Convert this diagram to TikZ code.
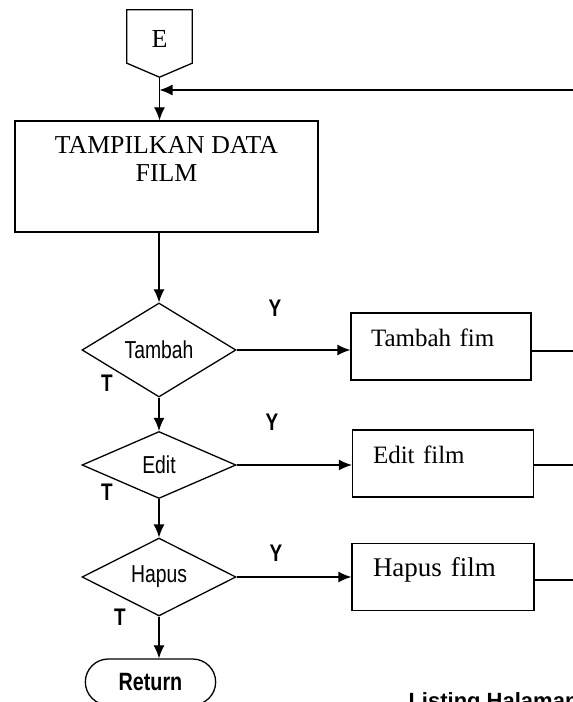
\documentclass[tikz,border=0pt]{standalone}
\usepackage{fontspec}
\setmainfont{Liberation Serif}
\newfontfamily\condsans[FakeStretch=0.79]{Liberation Sans}
\newfontfamily\plainsans{Liberation Sans}
\usetikzlibrary{shapes, arrows.meta, positioning}
\tikzstyle{block}=[draw,rectangle,line width=1.3pt]
\tikzstyle{procbox}=[block,align=left,text width=140pt,inner xsep=20pt,minimum height=67pt,text height=10pt,text depth=10pt,font=\fontsize{25}{28}\selectfont]
\tikzstyle{decision}=[draw,diamond,line width=1.3pt,inner sep=0pt,minimum width=154pt,font=\condsans\fontsize{24.5}{28}\selectfont]
\tikzstyle{terminal}=[draw,rounded rectangle,line width=1.3pt,minimum width=137pt,minimum height=46pt,font=\condsans\bfseries\fontsize{25}{28}\selectfont]
\tikzstyle{yn}=[font=\condsans\bfseries\fontsize{24}{28}\selectfont]
\tikzstyle{line}=[line width=1.3pt]

\begin{document}
\begin{tikzpicture}[x=1pt,y=1pt,>={Latex[length=13pt,width=11pt]}]
    \useasboundingbox (0,0) rectangle (573,702);
    \node[minimum width=65pt, minimum height=53pt, inner sep=0pt, text height=23pt, text depth=0pt, font=\fontsize{26}{28}\selectfont] (E) at (159.5,665.5) {E};
    \coordinate (Etip) at ([yshift=-14pt]E.south);
    \draw[line] (E.south west) -- (E.north west) -- (E.north east) -- (E.south east) -- (Etip) -- cycle;
    \node[block, minimum width=303pt, minimum height=111pt, align=center, text height=11pt, text depth=0pt, font=\fontsize{25.8}{28}\selectfont] (tampil) at (166.5,525.5) {TAMPILKAN DATA\\FILM};
    \node[decision, minimum height=94pt] (tambah) at (159,352) {Tambah};
    \node[decision, minimum height=67pt, below of=tambah, node distance=115pt] (edit) {Edit};
    \node[decision, minimum height=68pt, below of=edit, node distance=112pt] (hapus) {Hapus};
    \node[terminal] (ret) at (150.5,20) {Return};
    \node[procbox, minimum width=180pt, right of=tambah, node distance=282pt, yshift=3.5pt] (tfim) {Tambah fim};
    \node[procbox, minimum width=181pt, right of=edit, node distance=284pt, yshift=1.5pt] (efim) {Edit film};
    \node[procbox, minimum width=182pt, right of=hapus, node distance=284pt, font=\fontsize{27}{28}\selectfont] (hfim) {Hapus film};
    \node[yn] (y1) at (275,394) {Y};
    \node[yn] (y2) at (272,280) {Y};
    \node[yn] (y3) at (276,149) {Y};
    \node[yn] (t1) at (107,319) {T};
    \node[yn] (t2) at (107,210) {T};
    \node[yn] (t3) at (120,85) {T};
    \node[anchor=base west, font=\plainsans\bfseries\fontsize{22}{26}\selectfont] (listing) at (405,-6) {Listing Halaman};
    \coordinate (jn) at (Etip |- 0,612);
    \coordinate (back0) at (575,612);
    \coordinate (back1) at (575,351);
    \coordinate (back2) at (575,237);
    \coordinate (back3) at (575,122);
    \draw[line,->] (back0) -- (jn);
    \draw[line,->] (Etip) -- (Etip |- tampil.north);
    \draw[line,->] (tambah.north |- tampil.south) -- (tambah.north);
    \draw[line,->] (tambah) -- (edit);
    \draw[line,->] (edit) -- (hapus);
    \draw[line,->] (hapus.south) -- (hapus.south |- ret.north);
    \draw[line,->] (tambah.east) -- (tambah.east -| tfim.west);
    \draw[line,->] (edit.east) -- (edit.east -| efim.west);
    \draw[line,->] (hapus.east) -- (hapus.east -| hfim.west);
    \draw[line] (tfim.east |- back1) -- (back1);
    \draw[line] (efim.east |- back2) -- (back2);
    \draw[line] (hfim.east |- back3) -- (back3);
\end{tikzpicture}
\end{document}
